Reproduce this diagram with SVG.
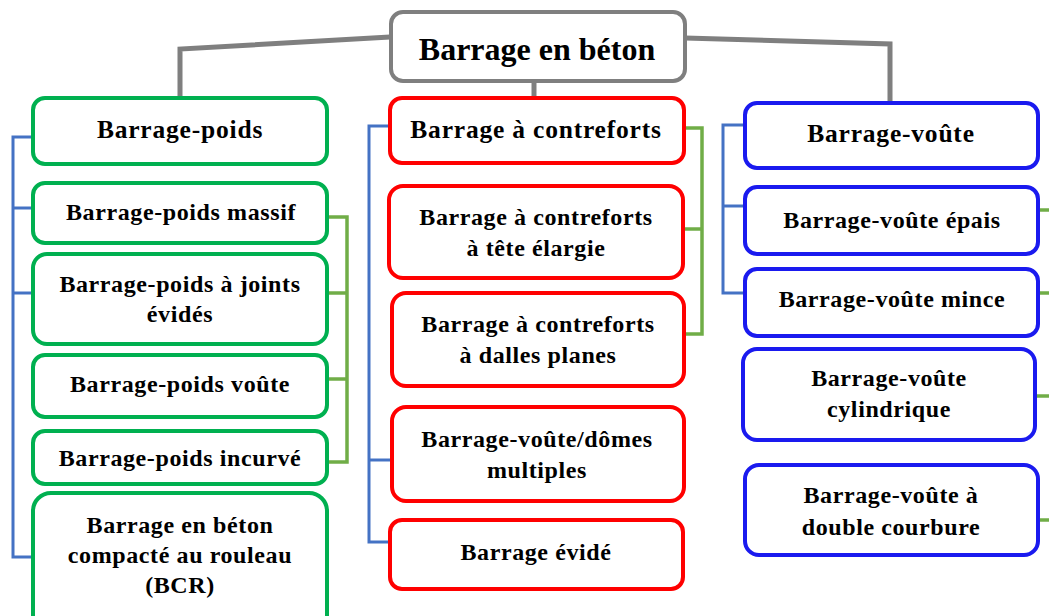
<svg xmlns="http://www.w3.org/2000/svg" width="1049" height="616" viewBox="0 0 1049 616">
<style>
.box{fill:#fff;stroke-width:4}
.g{stroke:#00b050}.r{stroke:#ff0000}.b{stroke:#1a1aef}.k{stroke:#7f7f7f}
text{font-family:"Liberation Serif","Times New Roman",serif;font-weight:bold;font-size:24px;letter-spacing:0.6px;text-anchor:middle;fill:#000}
.t{font-size:32px;letter-spacing:0}
.h{font-size:25.5px;letter-spacing:0.8px}
.cg{fill:none;stroke:#7f7f7f;stroke-width:5}
.cb{fill:none;stroke:#4472c4;stroke-width:3}
.cl{fill:none;stroke:#70ad47;stroke-width:3.5}
</style>
<rect width="1049" height="616" fill="#fff"/>
<g id="connectors">
<polyline class="cg" points="390,37 180,49 180,98"/>
<polyline class="cg" points="685,38 890,44 890,103"/>
<line class="cg" x1="534" y1="82" x2="534" y2="98"/>
<polyline class="cb" points="33,137 13,137 13,557 33,557"/>
<line class="cb" x1="13" y1="208" x2="33" y2="208"/>
<line class="cb" x1="13" y1="293" x2="33" y2="293"/>
<polyline class="cl" points="327,217 347,217 347,462 327,462"/>
<line class="cl" x1="327" y1="293" x2="347" y2="293"/>
<line class="cl" x1="327" y1="379" x2="347" y2="379"/>
<polyline class="cb" points="390,126 369,126 369,542 390,542"/>
<line class="cb" x1="369" y1="460" x2="391" y2="460"/>
<polyline class="cl" points="685,128 702,128 702,334 685,334"/>
<line class="cl" x1="683" y1="229" x2="702" y2="229"/>
<polyline class="cb" points="745,125 723,125 723,293 745,293"/>
<line class="cb" x1="723" y1="206" x2="745" y2="206"/>
<line class="cl" x1="1038" y1="210" x2="1049" y2="210"/>
<line class="cl" x1="1038" y1="293" x2="1049" y2="293"/>
<line class="cl" x1="1035" y1="396" x2="1049" y2="396"/>
<line class="cl" x1="1038" y1="520" x2="1049" y2="520"/>
</g>
<g id="root"><rect class="box k" x="391" y="12" width="294" height="69" rx="12"/><text class="t" x="537" y="60">Barrage en béton</text></g>
<g id="poids"><rect class="box g" x="33" y="98" width="294" height="66" rx="12"/><text class="h" x="180" y="138">Barrage-poids</text></g>
<g id="poids-massif"><rect class="box g" x="33" y="183" width="294" height="60" rx="12"/><text x="181" y="220">Barrage-poids massif</text></g>
<g id="poids-joints"><rect class="box g" x="33" y="254" width="294" height="90" rx="14"/><text x="180" y="292">Barrage-poids à joints</text><text x="180" y="322">évidés</text></g>
<g id="poids-voute"><rect class="box g" x="33" y="355" width="294" height="62" rx="12"/><text x="180" y="392">Barrage-poids voûte</text></g>
<g id="poids-incurve"><text x="180" y="466">Barrage-poids incurvé</text><rect class="box g" x="33" y="431" width="294" height="53" rx="12" style="fill:none"/></g>
<g id="bcr"><rect class="box g" x="33" y="493" width="294" height="140" rx="18"/><text x="180" y="533">Barrage en béton</text><text x="180" y="563">compacté au rouleau</text><text x="180" y="593">(BCR)</text></g>
<g id="contreforts"><rect class="box r" x="390" y="98" width="294" height="65" rx="12"/><text class="h" x="536" y="138">Barrage à contreforts</text></g>
<g id="tete-elargie"><rect class="box r" x="389" y="186" width="294" height="92" rx="14"/><text x="536" y="225">Barrage à contreforts</text><text x="536" y="256">à tête élargie</text></g>
<g id="dalles-planes"><rect class="box r" x="392" y="293" width="292" height="93" rx="14"/><text x="538" y="332">Barrage à contreforts</text><text x="538" y="363">à dalles planes</text></g>
<g id="domes"><rect class="box r" x="392" y="407" width="292" height="94" rx="14"/><text x="537" y="447">Barrage-voûte/dômes</text><text x="537" y="478">multiples</text></g>
<g id="evide"><rect class="box r" x="390" y="520" width="293" height="69" rx="12"/><text x="536" y="560">Barrage évidé</text></g>
<g id="voute"><rect class="box b" x="745" y="103" width="293" height="65" rx="12"/><text class="h" x="891" y="142">Barrage-voûte</text></g>
<g id="voute-epais"><rect class="box b" x="745" y="187" width="293" height="67" rx="12"/><text x="892" y="228">Barrage-voûte épais</text></g>
<g id="voute-mince"><rect class="box b" x="745" y="269" width="293" height="67" rx="12"/><text x="892" y="307">Barrage-voûte mince</text></g>
<g id="voute-cyl"><rect class="box b" x="743" y="349" width="292" height="91" rx="14"/><text x="889" y="386">Barrage-voûte</text><text x="889" y="417">cylindrique</text></g>
<g id="voute-double"><rect class="box b" x="745" y="465" width="293" height="90" rx="14"/><text x="891" y="503">Barrage-voûte à</text><text x="891" y="535">double courbure</text></g>
</svg>
